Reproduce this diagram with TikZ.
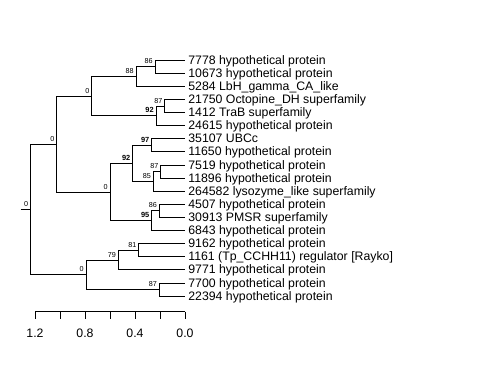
\documentclass[tikz,border=0pt]{standalone}
\usepackage{fontspec}
\setmainfont{Liberation Sans}
\usetikzlibrary{positioning}

\tikzset{
  tip/.style={anchor=base west, inner sep=0pt, xshift=3pt, yshift=-4.2pt, font=\fontsize{12.3}{14}\selectfont},
  boot/.style={anchor=base east, inner sep=0pt, xshift=-2pt, yshift=2.8pt, font=\fontsize{7.2}{8}\selectfont},
  bootb/.style={boot, font=\fontsize{7.4}{8}\selectfont\bfseries},
  elbow/.style={to path={|- (\tikztotarget)}},
  scalelbl/.style={anchor=base, inner sep=0pt, font=\fontsize{12.3}{14}\selectfont},
}

\begin{document}
\begin{tikzpicture}[x=1pt, y=-1pt, line width=0.7pt]
\useasboundingbox (0,0) rectangle (480,384);
% leaves
\coordinate (l1)  at (185,60);
\coordinate (l2)  at (185,73.11);
\coordinate (l3)  at (185,86.22);
\coordinate (l4)  at (185,99.33);
\coordinate (l5)  at (185,112.44);
\coordinate (l6)  at (185,125.56);
\coordinate (l7)  at (185,138.67);
\coordinate (l8)  at (185,151.78);
\coordinate (l9)  at (185,164.89);
\coordinate (l10) at (185,178);
\coordinate (l11) at (185,191.11);
\coordinate (l12) at (185,204.22);
\coordinate (l13) at (185,217.33);
\coordinate (l14) at (185,230.44);
\coordinate (l15) at (185,243.56);
\coordinate (l16) at (185,256.67);
\coordinate (l17) at (185,269.78);
\coordinate (l18) at (185,282.89);
\coordinate (l19) at (185,296);
\node[tip] (t1)  at (l1)  {7778 hypothetical protein};
\node[tip] (t2)  at (l2)  {10673 hypothetical protein};
\node[tip] (t3)  at (l3)  {5284 LbH\_gamma\_CA\_like};
\node[tip] (t4)  at (l4)  {21750 Octopine\_DH superfamily};
\node[tip] (t5)  at (l5)  {1412 TraB superfamily};
\node[tip] (t6)  at (l6)  {24615 hypothetical protein};
\node[tip] (t7)  at (l7)  {35107 UBCc};
\node[tip] (t8)  at (l8)  {11650 hypothetical protein};
\node[tip] (t9)  at (l9)  {7519 hypothetical protein};
\node[tip] (t10) at (l10) {11896 hypothetical protein};
\node[tip] (t11) at (l11) {264582 lysozyme\_like superfamily};
\node[tip] (t12) at (l12) {4507 hypothetical protein};
\node[tip] (t13) at (l13) {30913 PMSR superfamily};
\node[tip] (t14) at (l14) {6843 hypothetical protein};
\node[tip] (t15) at (l15) {9162 hypothetical protein};
\node[tip] (t16) at (l16) {1161 (Tp\_CCHH11) regulator [Rayko]};
\node[tip] (t17) at (l17) {9771 hypothetical protein};
\node[tip] (t18) at (l18) {7700 hypothetical protein};
\node[tip] (t19) at (l19) {22394 hypothetical protein};
% inner nodes
\coordinate (a86)  at (155,66.56);
\coordinate (a88)  at (136,76.39);
\coordinate (b87)  at (164.7,105.89);
\coordinate (b92)  at (156,115.72);
\coordinate (c0)   at (91.7,96.06);
\coordinate (d97)  at (151.7,145.22);
\coordinate (d87)  at (160.7,171.44);
\coordinate (d85)  at (153.3,181.28);
\coordinate (d92)  at (132.7,163.25);
\coordinate (e86)  at (159.3,210.78);
\coordinate (e95)  at (151.7,220.61);
\coordinate (f0)   at (110,191.93);
\coordinate (g0)   at (56.7,144);
\coordinate (h81)  at (138.7,250.11);
\coordinate (h79)  at (118.3,259.95);
\coordinate (i87)  at (159.3,289.44);
\coordinate (j0)   at (86,274.7);
\coordinate (root) at (30.5,209.35);
\coordinate (stem) at (20.5,209.35);
\path[draw, elbow]
(a86) edge (l1)
(a86) edge (l2)
(a88) edge (a86)
(a88) edge (l3)
(b87) edge (l4)
(b87) edge (l5)
(b92) edge (b87)
(b92) edge (l6)
(c0) edge (a88)
(c0) edge (b92)
(d97) edge (l7)
(d97) edge (l8)
(d87) edge (l9)
(d87) edge (l10)
(d85) edge (d87)
(d85) edge (l11)
(d92) edge (d97)
(d92) edge (d85)
(e86) edge (l12)
(e86) edge (l13)
(e95) edge (e86)
(e95) edge (l14)
(f0) edge (d92)
(f0) edge (e95)
(g0) edge (c0)
(g0) edge (f0)
(h81) edge (l15)
(h81) edge (l16)
(h79) edge (h81)
(h79) edge (l17)
(i87) edge (l18)
(i87) edge (l19)
(j0) edge (h79)
(j0) edge (i87)
(root) edge (g0)
(root) edge (j0);
\draw (stem) -- (root);
% support values
\node[boot]  (s1)  at (a86)  {86};
\node[boot]  (s2)  at (a88)  {88};
\node[boot]  (s3)  at (b87)  {87};
\node[bootb] (s4)  at (b92)  {92};
\node[boot]  (s5)  at (c0)   {0};
\node[bootb] (s6)  at (d97)  {97};
\node[boot]  (s7)  at (d87)  {87};
\node[boot]  (s8)  at (d85)  {85};
\node[bootb] (s9)  at (d92)  {92};
\node[boot]  (s10) at (e86)  {86};
\node[bootb] (s11) at (e95)  {95};
\node[boot]  (s12) at (f0)   {0};
\node[boot]  (s13) at (g0)   {0};
\node[boot]  (s14) at (h81)  {81};
\node[boot]  (s15) at (h79)  {79};
\node[boot]  (s16) at (i87)  {87};
\node[boot]  (s17) at (j0)   {0};
\node[boot]  (s18) at (root) {0};
% scale
\draw (35,311.7) -- (185,311.7);
\draw (35,311.7) -- (35,319) (60,311.7) -- (60,319) (85,311.7) -- (85,319)
      (110,311.7) -- (110,319) (135,311.7) -- (135,319) (160,311.7) -- (160,319)
      (185,311.7) -- (185,319);
\node[scalelbl] (x12) at (35,337.3)  {1.2};
\node[scalelbl] (x08) at (85,337.3)  {0.8};
\node[scalelbl] (x04) at (135,337.3) {0.4};
\node[scalelbl] (x00) at (185,337.3) {0.0};
\end{tikzpicture}
\end{document}
